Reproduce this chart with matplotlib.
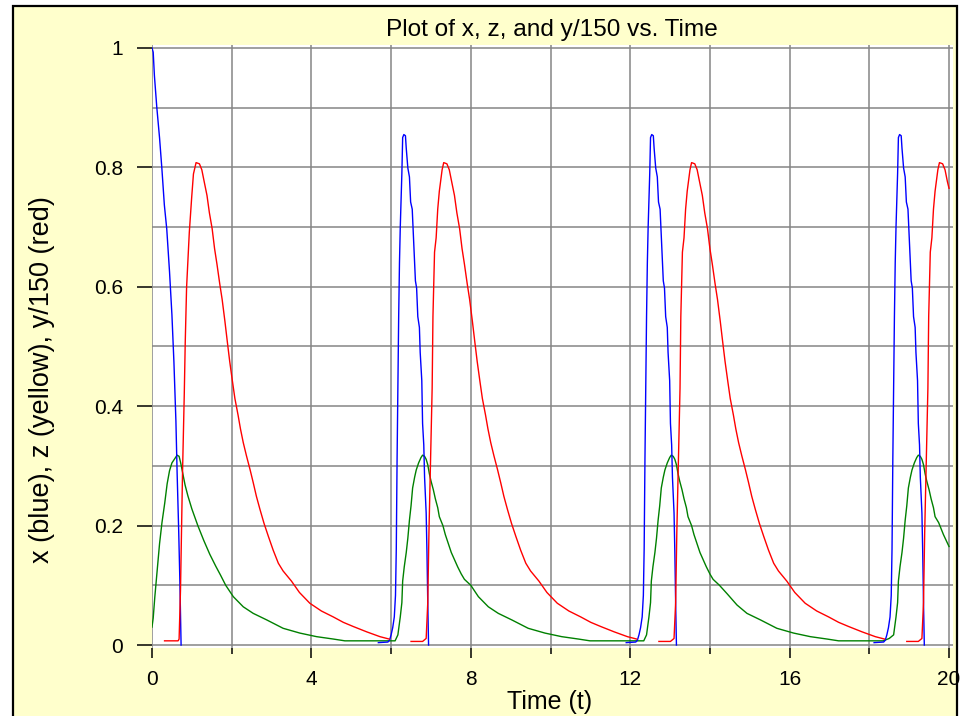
import numpy as np
import matplotlib
matplotlib.use("Agg")
import matplotlib.pyplot as plt
from matplotlib.patches import Rectangle

plt.rcParams['font.family'] = ['Liberation Sans', 'DejaVu Sans']

# ---------------- data ----------------
title = "Plot of x, z, and y/150 vs. Time"
xlabel = "Time (t)"
ylabel = "x (blue), z (yellow), y/150 (red)"
xticks = [0, 4, 8, 12, 16, 20]
xtick_labels = ["0", "4", "8", "12", "16", "20"]
yticks = [0, 0.2, 0.4, 0.6, 0.8, 1.0]
ytick_labels = ["0", "0.2", "0.4", "0.6", "0.8", "1"]

# x (blue) - drawn in separate pieces
blue_t1 = [0.00, 0.03, 0.06, 0.12, 0.19, 0.25, 0.31, 0.37, 0.44, 0.50, 0.55, 0.60, 0.63, 0.67, 0.70, 0.73]
blue_v1 = [1.000, 0.993, 0.954, 0.901, 0.849, 0.796, 0.737, 0.697, 0.625, 0.553, 0.474, 0.375, 0.289, 0.191, 0.105, 0.0]

blue_t2 = [5.68, 5.92, 5.96, 6.00, 6.04, 6.08, 6.11, 6.13, 6.15, 6.17, 6.19, 6.21, 6.23, 6.27, 6.29, 6.32, 6.36, 6.38,
           6.42, 6.46, 6.49, 6.53, 6.57, 6.61, 6.64, 6.67, 6.71, 6.73, 6.77, 6.79, 6.82, 6.84, 6.88, 6.90, 6.92, 6.94]
blue_v2 = [0.004, 0.005, 0.008, 0.017, 0.029, 0.047, 0.083, 0.161, 0.311, 0.431, 0.55, 0.64, 0.70, 0.79, 0.85, 0.855, 0.853, 0.832,
           0.799, 0.784, 0.742, 0.73, 0.67, 0.61, 0.598, 0.55, 0.532, 0.49, 0.443, 0.371, 0.335, 0.281, 0.221, 0.155, 0.071, 0.0]

blue_t3 = [11.90, 12.14, 12.18, 12.22, 12.26, 12.30, 12.33, 12.35, 12.37, 12.39, 12.41, 12.43, 12.45, 12.49, 12.51, 12.54, 12.58, 12.60,
           12.64, 12.68, 12.71, 12.75, 12.79, 12.83, 12.86, 12.89, 12.93, 12.95, 12.99, 13.01, 13.04, 13.06, 13.10, 13.12, 13.14, 13.16]
blue_v3 = [0.004, 0.005, 0.008, 0.017, 0.029, 0.047, 0.083, 0.161, 0.311, 0.431, 0.55, 0.64, 0.70, 0.79, 0.85, 0.855, 0.853, 0.832,
           0.799, 0.784, 0.742, 0.73, 0.67, 0.61, 0.598, 0.55, 0.532, 0.49, 0.443, 0.371, 0.335, 0.281, 0.221, 0.155, 0.071, 0.0]

blue_t4 = [18.12, 18.36, 18.40, 18.44, 18.48, 18.52, 18.55, 18.57, 18.59, 18.61, 18.63, 18.65, 18.67, 18.71, 18.73, 18.76, 18.80, 18.82,
           18.86, 18.90, 18.93, 18.97, 19.01, 19.05, 19.08, 19.11, 19.15, 19.17, 19.21, 19.23, 19.26, 19.28, 19.32, 19.34, 19.36, 19.38]
blue_v4 = [0.004, 0.005, 0.008, 0.017, 0.029, 0.047, 0.083, 0.161, 0.311, 0.431, 0.55, 0.64, 0.70, 0.79, 0.85, 0.855, 0.853, 0.832,
           0.799, 0.784, 0.742, 0.73, 0.67, 0.61, 0.598, 0.55, 0.532, 0.49, 0.443, 0.371, 0.335, 0.281, 0.221, 0.155, 0.071, 0.0]

# y/150 (red) - drawn in separate pieces
red_t1 = [0.315, 0.655, 0.68, 0.715, 0.766, 0.81, 0.834, 0.868, 0.936, 0.996, 1.04, 1.106, 1.19, 1.25, 1.31, 1.38, 1.44, 1.51,
          1.57, 1.63, 1.70, 1.76, 1.83, 1.89, 1.95, 2.02, 2.08, 2.16, 2.22, 2.29, 2.37, 2.46, 2.54, 2.62, 2.71, 2.81, 2.92,
          3.04, 3.17, 3.29, 3.50, 3.70, 3.96, 4.25, 4.55, 4.80, 5.05, 5.39, 5.72, 5.95]
red_v1 = [0.007, 0.007, 0.01, 0.092, 0.289, 0.421, 0.507, 0.599, 0.691, 0.75, 0.789, 0.808, 0.806, 0.796, 0.776, 0.753, 0.724, 0.697,
          0.664, 0.638, 0.605, 0.579, 0.542, 0.508, 0.475, 0.441, 0.413, 0.385, 0.362, 0.339, 0.317, 0.294, 0.272, 0.249, 0.227, 0.204, 0.182,
          0.159, 0.137, 0.124, 0.107, 0.088, 0.070, 0.057, 0.047, 0.038, 0.031, 0.022, 0.014, 0.010]

red_t2 = [6.50, 6.79, 6.88, 6.92, 6.95, 6.99, 7.03, 7.05, 7.09, 7.13, 7.17, 7.21, 7.28, 7.32, 7.40, 7.46, 7.52, 7.59, 7.65, 7.72,
          7.78, 7.84, 7.91, 7.97, 8.04, 8.10, 8.16, 8.23, 8.29, 8.37, 8.43, 8.50, 8.58, 8.67, 8.75, 8.83, 8.92, 9.02, 9.13,
          9.25, 9.38, 9.50, 9.71, 9.91, 10.17, 10.46, 10.76, 11.01, 11.26, 11.60, 11.93, 12.16]
red_v2 = [0.006, 0.006, 0.011, 0.071, 0.19, 0.31, 0.43, 0.55, 0.658, 0.682, 0.73, 0.76, 0.796, 0.808, 0.806, 0.796, 0.776, 0.753, 0.724, 0.697,
          0.664, 0.638, 0.605, 0.579, 0.542, 0.508, 0.475, 0.441, 0.413, 0.385, 0.362, 0.339, 0.317, 0.294, 0.272, 0.249, 0.227, 0.204, 0.182,
          0.159, 0.137, 0.124, 0.107, 0.088, 0.070, 0.057, 0.047, 0.038, 0.031, 0.022, 0.014, 0.010]

red_t3 = [12.72, 13.01, 13.10, 13.14, 13.17, 13.21, 13.25, 13.27, 13.31, 13.35, 13.39, 13.43, 13.50, 13.54, 13.62, 13.68, 13.74, 13.81, 13.87, 13.94,
          14.00, 14.06, 14.13, 14.19, 14.26, 14.32, 14.38, 14.45, 14.51, 14.59, 14.65, 14.72, 14.80, 14.89, 14.97, 15.05, 15.14, 15.24, 15.35,
          15.47, 15.60, 15.72, 15.93, 16.13, 16.39, 16.68, 16.98, 17.23, 17.48, 17.82, 18.15, 18.38]
red_v3 = [0.006, 0.006, 0.011, 0.071, 0.19, 0.31, 0.43, 0.55, 0.658, 0.682, 0.73, 0.76, 0.796, 0.808, 0.806, 0.796, 0.776, 0.753, 0.724, 0.697,
          0.664, 0.638, 0.605, 0.579, 0.542, 0.508, 0.475, 0.441, 0.413, 0.385, 0.362, 0.339, 0.317, 0.294, 0.272, 0.249, 0.227, 0.204, 0.182,
          0.159, 0.137, 0.124, 0.107, 0.088, 0.070, 0.057, 0.047, 0.038, 0.031, 0.022, 0.014, 0.010]

red_t4 = [18.94, 19.23, 19.32, 19.36, 19.39, 19.43, 19.47, 19.49, 19.53, 19.57, 19.61, 19.65, 19.72, 19.76, 19.84, 19.90, 19.96, 20.0]
red_v4 = [0.006, 0.006, 0.011, 0.071, 0.19, 0.31, 0.43, 0.55, 0.658, 0.682, 0.73, 0.76, 0.796, 0.808, 0.806, 0.796, 0.776, 0.765]

# z (green) - one continuous trace
green_t = [0.00, 0.03, 0.07, 0.13, 0.19, 0.25, 0.32, 0.38, 0.44, 0.50, 0.57, 0.63, 0.68, 0.72, 0.77, 0.83, 0.90, 1.00, 1.15,
           1.30, 1.45, 1.60, 1.72, 1.85, 2.04, 2.29, 2.54, 2.88, 3.29, 3.71, 4.13, 4.55, 4.84, 5.89, 6.10,
           6.17, 6.23, 6.27, 6.29, 6.33, 6.38, 6.42, 6.46, 6.50, 6.54, 6.59, 6.63, 6.69, 6.75, 6.79, 6.84, 6.88, 6.92, 6.96,
           7.00, 7.06, 7.11, 7.17, 7.21, 7.30, 7.36, 7.42, 7.51, 7.59, 7.67, 7.76, 7.84, 8.00, 8.19, 8.44, 8.69, 9.03, 9.44,
           9.86, 10.28, 10.70, 10.99, 12.10, 12.34,
           12.41, 12.47, 12.51, 12.53, 12.57, 12.62, 12.66, 12.70, 12.74, 12.78, 12.83, 12.87, 12.93, 12.99, 13.03, 13.08, 13.12,
           13.16, 13.20, 13.24, 13.30, 13.35, 13.41, 13.45, 13.54, 13.60, 13.66, 13.75, 13.83, 13.91, 14.00, 14.08, 14.24, 14.43,
           14.68, 14.93, 15.27, 15.68, 16.10, 16.52, 16.94, 17.23, 18.35, 18.50,
           18.61, 18.67, 18.71, 18.73, 18.77, 18.82, 18.86, 18.90, 18.94, 18.98, 19.03, 19.07, 19.13, 19.19, 19.23, 19.28, 19.32,
           19.36, 19.40, 19.44, 19.50, 19.55, 19.61, 19.65, 19.74, 19.80, 19.86, 19.93, 20.0]
green_v = [0.030, 0.045, 0.080, 0.125, 0.170, 0.205, 0.238, 0.270, 0.292, 0.305, 0.312, 0.318, 0.316, 0.305, 0.288, 0.268, 0.250, 0.228, 0.200,
           0.175, 0.152, 0.132, 0.117, 0.100, 0.081, 0.064, 0.053, 0.042, 0.028, 0.020, 0.014, 0.010, 0.007, 0.007, 0.007,
           0.017, 0.047, 0.071, 0.107, 0.131, 0.155, 0.179, 0.209, 0.233, 0.263, 0.281, 0.293, 0.305, 0.314, 0.318, 0.316, 0.311, 0.302, 0.287,
           0.275, 0.260, 0.245, 0.230, 0.215, 0.200, 0.185, 0.173, 0.155, 0.143, 0.131, 0.119, 0.110, 0.100, 0.081, 0.064, 0.053, 0.042, 0.028,
           0.020, 0.014, 0.010, 0.007, 0.007, 0.007,
           0.017, 0.047, 0.071, 0.107, 0.131, 0.155, 0.179, 0.209, 0.233, 0.263, 0.281, 0.293, 0.305, 0.314, 0.318, 0.316, 0.311,
           0.302, 0.287, 0.275, 0.260, 0.245, 0.230, 0.215, 0.200, 0.185, 0.173, 0.155, 0.143, 0.131, 0.119, 0.110, 0.100, 0.086,
           0.067, 0.053, 0.042, 0.028, 0.020, 0.014, 0.010, 0.007, 0.007, 0.011,
           0.017, 0.047, 0.071, 0.107, 0.131, 0.155, 0.179, 0.209, 0.233, 0.263, 0.281, 0.293, 0.305, 0.314, 0.318, 0.316, 0.311,
           0.302, 0.287, 0.275, 0.260, 0.245, 0.230, 0.215, 0.205, 0.195, 0.185, 0.175, 0.165]

blue_segments = [(blue_t1, blue_v1), (blue_t2, blue_v2), (blue_t3, blue_v3), (blue_t4, blue_v4)]
red_segments = [(red_t1, red_v1), (red_t2, red_v2), (red_t3, red_v3), (red_t4, red_v4)]

# ---------------- figure ----------------
W, H = 963, 716
fig = plt.figure(figsize=(W / 100, H / 100), dpi=100, facecolor='white')

# pale yellow panel with a black frame (behind the axes)
panel = Rectangle((13 / W, -0.05), (957 - 13) / W, (H - 6) / H + 0.05,
                  transform=fig.transFigure, facecolor='#FFFFCC',
                  edgecolor='black', linewidth=1.6, zorder=-10)
fig.patches.append(panel)

ax = fig.add_axes([152 / W, (H - 648) / H, (953 - 152) / W, (648 - 45) / H])
ax.set_zorder(1)
ax.set_facecolor('white')
ax.set_xlim(0, 20.1)
ax.set_ylim(-0.005, 1.005)

for s in ax.spines.values():
    s.set_visible(False)

ax.set_xticks(xticks)
ax.set_xticklabels(xtick_labels)
ax.set_xticks([2, 6, 10, 14, 18], minor=True)
ax.set_yticks(yticks)
ax.set_yticklabels(ytick_labels)
ax.set_yticks([0.1, 0.3, 0.5, 0.7, 0.9], minor=True)

ax.tick_params(axis='x', which='major', direction='out', length=7.5, width=1.1, color='black',
               labelsize=15, pad=8)
ax.tick_params(axis='x', which='minor', direction='out', length=4, width=1.1, color='black')
ax.tick_params(axis='y', which='major', direction='out', length=11, width=1.1, color='black',
               labelsize=15, pad=10)
ax.tick_params(axis='y', which='minor', length=0)

ax.grid(True, which='both', color='#858585', linewidth=1.1)
ax.set_axisbelow(True)

for t, v in blue_segments:
    ax.plot(t, v, color='#0000FF', linewidth=1.0, zorder=3)
for t, v in red_segments:
    ax.plot(t, v, color='#FF0000', linewidth=1.0, zorder=3)
ax.plot(green_t, green_v, color='#008000', linewidth=1.0, zorder=2)

fig.text(552 / W, 1 - 30 / H, title, ha='center', va='center', fontsize=17.6)
fig.text(550 / W, 1 - 702 / H, xlabel, ha='center', va='center', fontsize=18)
fig.text(42 / W, 1 - 380 / H, ylabel, ha='center', va='center', rotation=90, fontsize=19.5)

fig.savefig('out.png', dpi=100, facecolor=fig.get_facecolor())
